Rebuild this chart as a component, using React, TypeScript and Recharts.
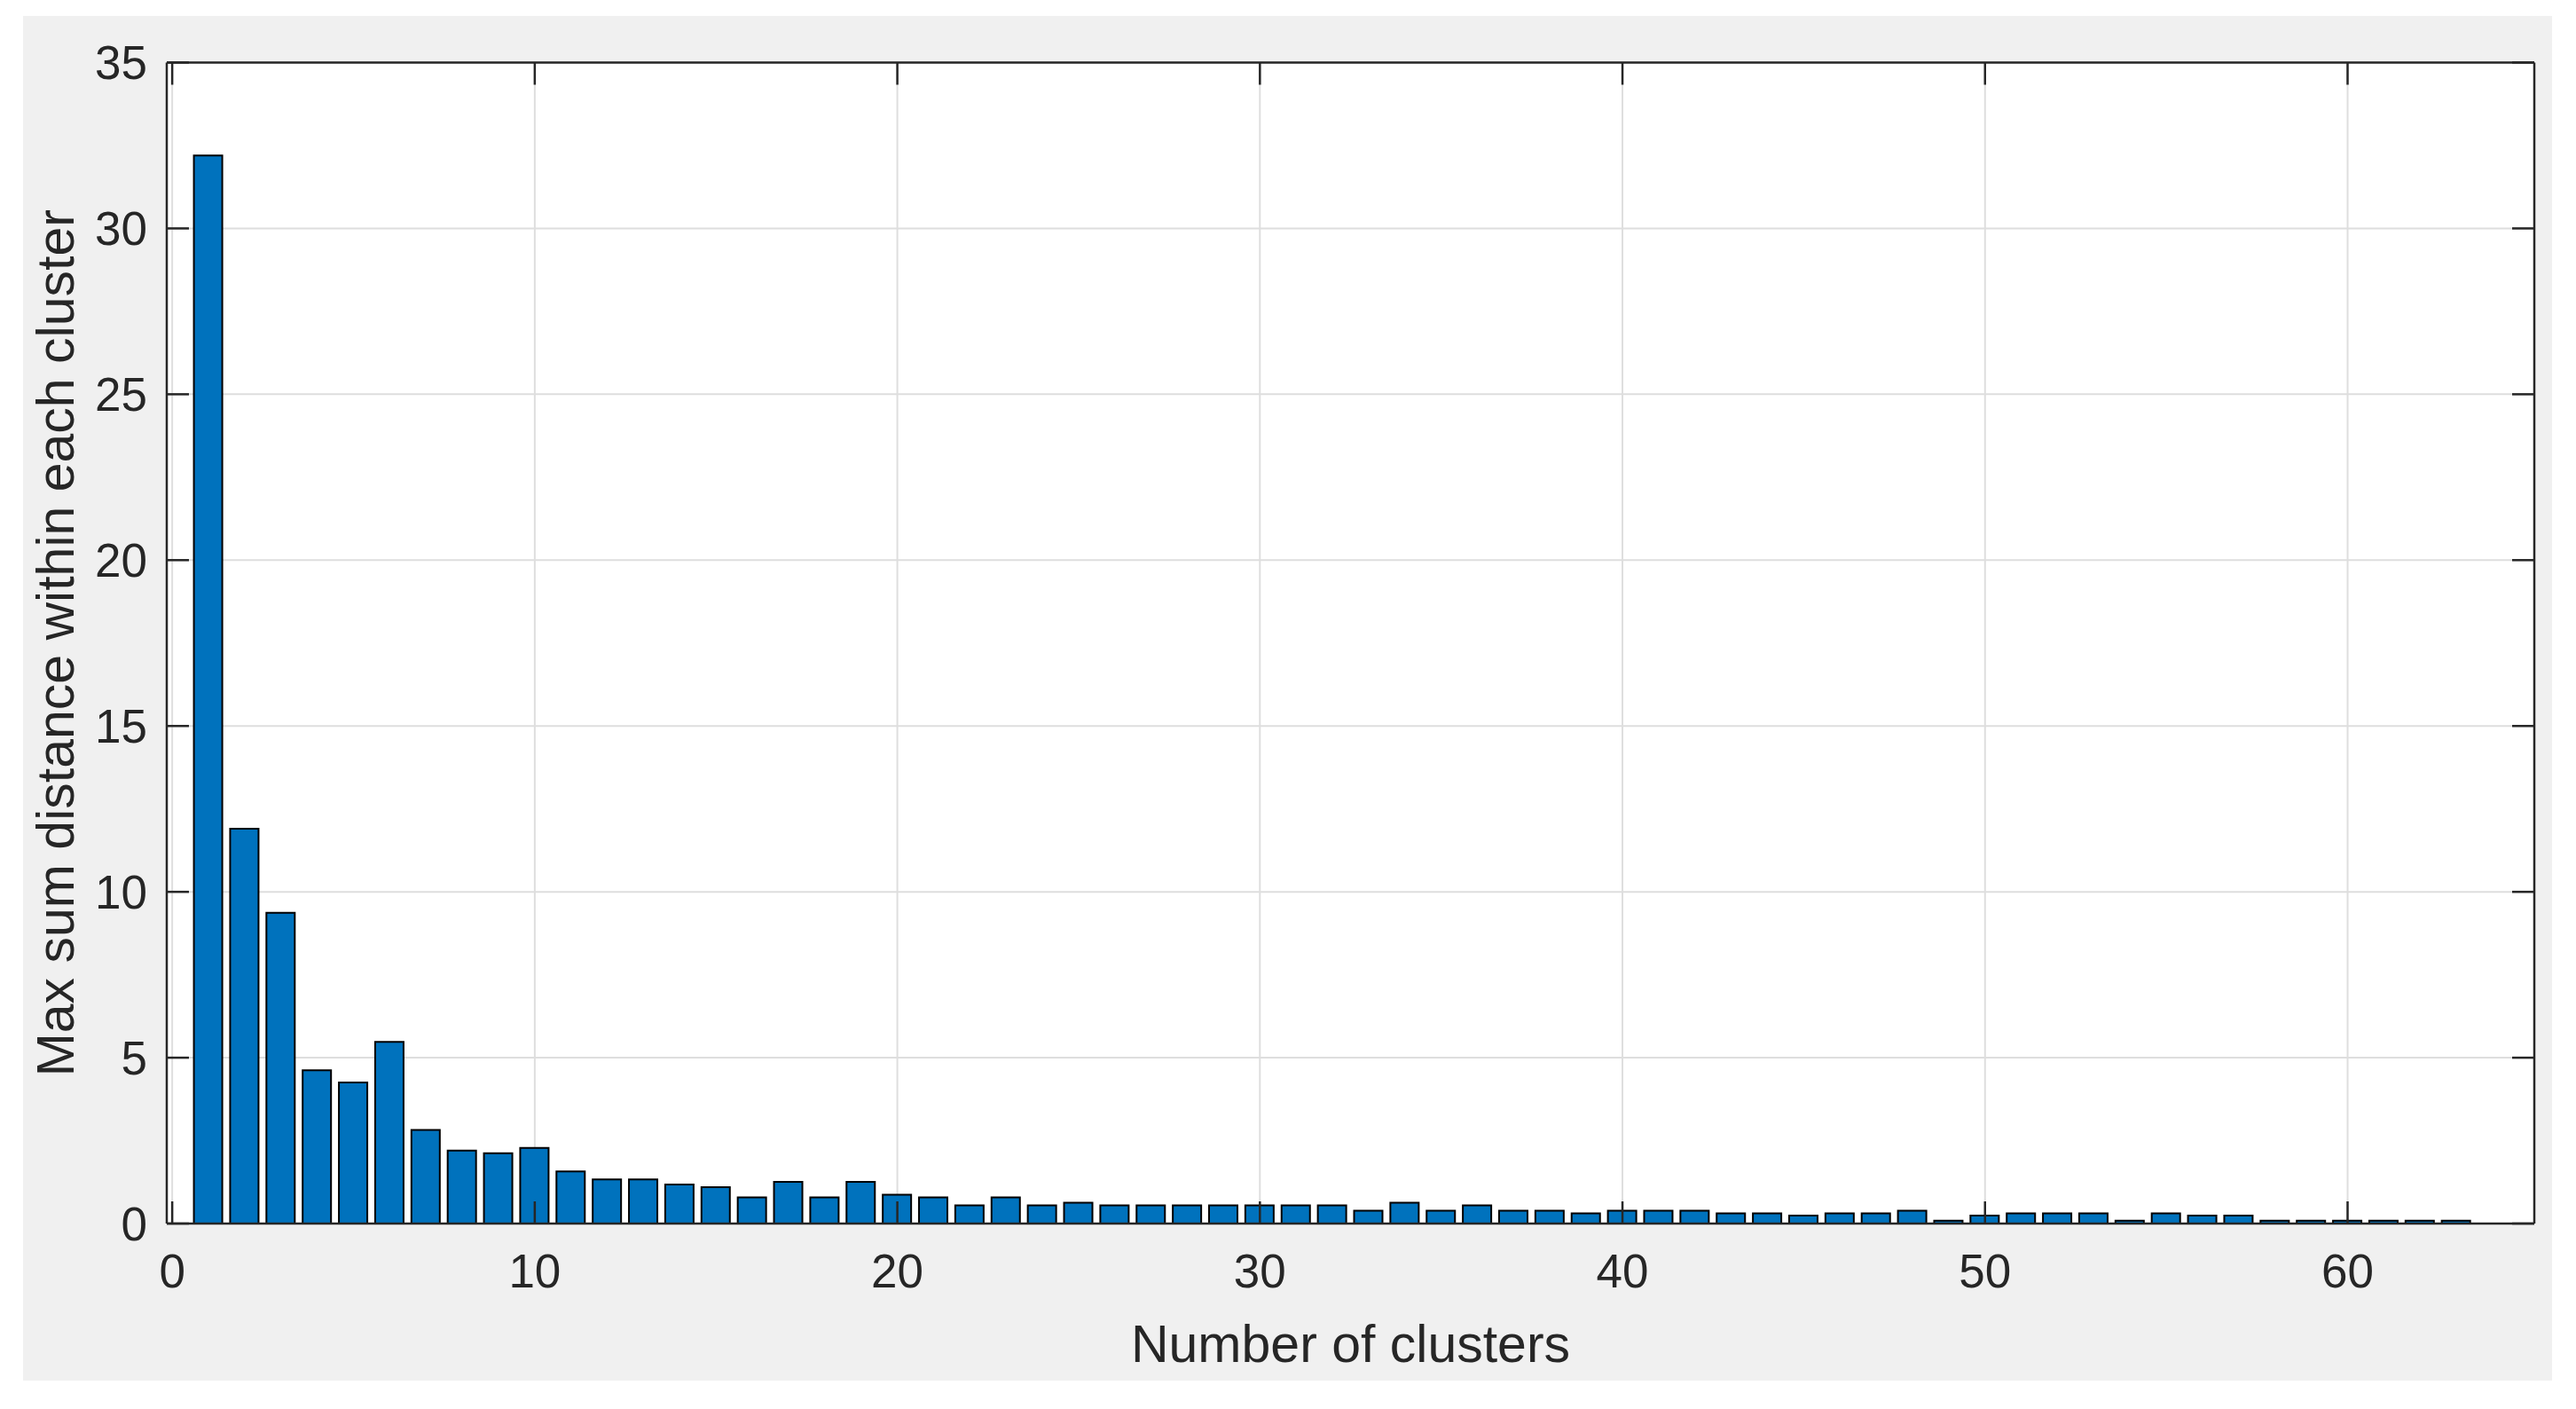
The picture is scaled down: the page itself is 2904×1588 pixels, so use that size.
import React from 'react';
import { ComposedChart, Bar, Line, XAxis, YAxis, CartesianGrid, Label } from 'recharts';

// cluster count on x, max within-cluster sum distance on y
const clusterCounts = Array.from({ length: 63 }, (_, i) => i + 1);
const maxSumDistance = [
  32.2, 11.9, 9.37, 4.62, 4.25, 5.48, 2.82, 2.2, 2.12, 2.28,
  1.57, 1.33, 1.33, 1.18, 1.1, 0.79, 1.26, 0.79, 1.26, 0.87,
  0.79, 0.55, 0.79, 0.55, 0.63, 0.55, 0.55, 0.55, 0.55, 0.55,
  0.55, 0.55, 0.39, 0.63, 0.39, 0.55, 0.39, 0.39, 0.31, 0.39,
  0.39, 0.39, 0.31, 0.31, 0.24, 0.31, 0.31, 0.39, 0.09, 0.24,
  0.31, 0.31, 0.31, 0.09, 0.31, 0.24, 0.24, 0.09, 0.09, 0.09,
  0.09, 0.09, 0.09,
];
const xTicks = [0, 10, 20, 30, 40, 50, 60];
const yTicks = [0, 5, 10, 15, 20, 25, 30, 35];

const data = clusterCounts.map((n, i) => ({ n, value: maxSumDistance[i] }));

const FONT = '"Liberation Sans", Arial, Helvetica, sans-serif';
const INK = '#262626';
const TICK = -25;
const X_DOMAIN: [number, number] = [-0.15, 65.15];

const NoLabel = () => <g />;

export default function App() {
  return (
    <div style={{ position: 'absolute', left: 0, top: 0, width: 2904, height: 1588, background: '#fff' }}>
      <div style={{ position: 'absolute', left: 26, top: 18, width: 2851, height: 1538, background: '#f0f0f0' }}>
        <ComposedChart
          width={2851}
          height={1538}
          data={data}
          margin={{ top: 51.5, right: 19, left: 0, bottom: 0 }}
          style={{ fontFamily: FONT }}
        >
          <CartesianGrid stroke="#dedede" strokeWidth={2} fill="#fff" />
          <XAxis
            dataKey="n"
            type="number"
            domain={X_DOMAIN}
            allowDataOverflow
            ticks={xTicks}
            height={177}
            stroke={INK}
            strokeWidth={2.5}
            tickSize={TICK}
            tickMargin={59}
            tick={{ fill: INK, fontSize: 53 }}
            interval={0}
          >
            <Label
              content={({ viewBox }: any) => (
                <text
                  x={viewBox.x + viewBox.width / 2}
                  y={viewBox.y + 136}
                  textAnchor="middle"
                  dominantBaseline="central"
                  fill={INK}
                  fontSize={59}
                  fontFamily={FONT}
                >
                  Number of clusters
                </text>
              )}
            />
          </XAxis>
          <XAxis
            xAxisId="top"
            dataKey="n"
            orientation="top"
            type="number"
            domain={X_DOMAIN}
            allowDataOverflow
            ticks={xTicks}
            height={1}
            stroke={INK}
            strokeWidth={2.5}
            tickSize={TICK}
            tick={NoLabel}
            interval={0}
          />
          <YAxis
            type="number"
            domain={[0, 35]}
            ticks={yTicks}
            width={162}
            stroke={INK}
            strokeWidth={2.5}
            tickSize={TICK}
            tickMargin={47}
            tick={{ fill: INK, fontSize: 53 }}
            interval={0}
          >
            <Label
              content={({ viewBox }: any) => {
                const cx = viewBox.x + 37;
                const cy = viewBox.y + viewBox.height / 2;
                return (
                  <text
                    x={cx}
                    y={cy}
                    transform={`rotate(-90 ${cx} ${cy})`}
                    textAnchor="middle"
                    dominantBaseline="central"
                    fill={INK}
                    fontSize={59}
                    fontFamily={FONT}
                  >
                    Max sum distance within each cluster
                  </text>
                );
              }}
            />
          </YAxis>
          <YAxis
            yAxisId="right"
            orientation="right"
            type="number"
            domain={[0, 35]}
            ticks={yTicks}
            width={1}
            stroke={INK}
            strokeWidth={2.5}
            tickSize={TICK}
            tick={NoLabel}
            interval={0}
          />
          <Bar
            dataKey="value"
            fill="#0072BD"
            stroke="#000"
            strokeWidth={2}
            barSize={32}
            isAnimationActive={false}
          />
          {/* invisible series so the top and right axes get drawn (box + inward ticks) */}
          <Line
            xAxisId="top"
            yAxisId="right"
            dataKey="value"
            stroke="none"
            dot={false}
            activeDot={false}
            legendType="none"
            isAnimationActive={false}
          />
        </ComposedChart>
      </div>
    </div>
  );
}
